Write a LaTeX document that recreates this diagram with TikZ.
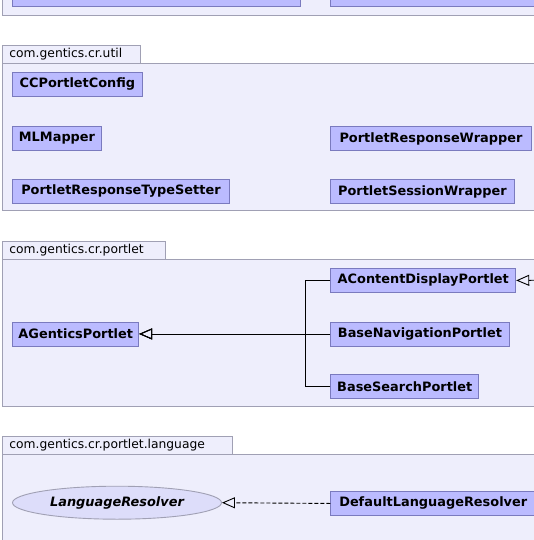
\documentclass[tikz,border=0pt]{standalone}
\usepackage{fontspec}
\setmainfont{DejaVu Sans}
\usetikzlibrary{arrows.meta,shapes.geometric}
\definecolor{pkgfill}{RGB}{238,238,252}
\definecolor{pkgline}{RGB}{160,160,180}
\definecolor{clsfill}{RGB}{187,187,255}
\definecolor{clsline}{RGB}{122,122,190}
\definecolor{ifcfill}{RGB}{221,221,250}

\begin{document}
\begin{tikzpicture}[
    x=1pt, y=-1pt,
    pkg/.style={draw=pkgline, fill=pkgfill, line width=0.9pt},
    tab/.style={draw=pkgline, fill=pkgfill, line width=0.9pt, anchor=north west, minimum height=18pt, inner xsep=6.7pt, inner ysep=0pt, align=left, font=\fontsize{12.3}{14}\selectfont},
    cls/.style={draw=clsline, fill=clsfill, line width=0.9pt, anchor=north west, minimum height=24pt, inner sep=0pt, font=\fontsize{12.9}{15}\selectfont\bfseries},
    ifc/.style={ellipse, draw=pkgline, fill=ifcfill, line width=0.9pt, minimum width=209pt, minimum height=33pt, inner sep=0pt, font=\fontsize{12.9}{15}\selectfont\bfseries\itshape},
    inherit/.style={-{Triangle[open, length=13pt, width=11pt]}, line width=0.9pt},
    realize/.style={inherit, dash pattern=on 4pt off 2pt}
]
    \useasboundingbox (0,0) rectangle (534,540);
    \clip (0,0) rectangle (534,540);
    \fill[white] (0,0) rectangle (534,540);

    % package cut off at the top
    \draw[pkg] (2.3,-30) rectangle (560,15);
    \node[cls, minimum width=288pt] (topleft) at (12.3,-18) {};
    \node[cls, minimum width=240pt] (topright) at (330.3,-18) {};

    % com.gentics.cr.util
    \node[tab, text width=124.3pt] (utiltab) at (2.3,45) {com.gentics.cr.util};
    \draw[pkg] (2.3,63) rectangle (560,210.7);
    \node[cls, minimum width=129.4pt] (ccconfig) at (12.3,72) {CCPortletConfig};
    \node[cls, minimum width=88.5pt] (mlmapper) at (12.3,126) {MLMapper};
    \node[cls, minimum width=216.4pt] (typesetter) at (12.3,179) {PortletResponseTypeSetter};
    \node[cls, minimum width=200.4pt] (respwrapper) at (330.3,126) {PortletResponseWrapper};
    \node[cls, minimum width=183.4pt] (sesswrapper) at (330.3,179) {PortletSessionWrapper};

    % com.gentics.cr.portlet
    \node[tab, text width=149.3pt] (portlettab) at (2.3,240.5) {com.gentics.cr.portlet};
    \draw[pkg] (2.3,259) rectangle (560,406);
    \node[cls, minimum width=126pt] (agp) at (12.3,321.5) {AGenticsPortlet};
    \node[cls, minimum width=185pt] (acd) at (330.3,268) {AContentDisplayPortlet};
    \node[cls, minimum width=178.4pt] (bnp) at (330.3,321.5) {BaseNavigationPortlet};
    \node[cls, minimum width=148pt] (bsp) at (330.3,374) {BaseSearchPortlet};
    \coordinate (offright) at (560,280);

    \draw[inherit] (acd.west) -- ++(-25,0) |- (agp.east);
    \draw[inherit] (bnp.west) -- (agp.east);
    \draw[inherit] (bsp.west) -- ++(-25,0) |- (agp.east);
    \draw[inherit] (offright) -- (acd.east);

    % com.gentics.cr.portlet.language
    \node[tab, text width=216pt] (langtab) at (2.3,436) {com.gentics.cr.portlet.language};
    \draw[pkg] (2.3,454) rectangle (560,580);
    \node[ifc] (resolver) at (117,502.7) {LanguageResolver};
    \node[cls, minimum width=205pt] (defresolver) at (330.3,491) {DefaultLanguageResolver};

    \draw[realize] (defresolver.west) -- (resolver.east);
\end{tikzpicture}
\end{document}
